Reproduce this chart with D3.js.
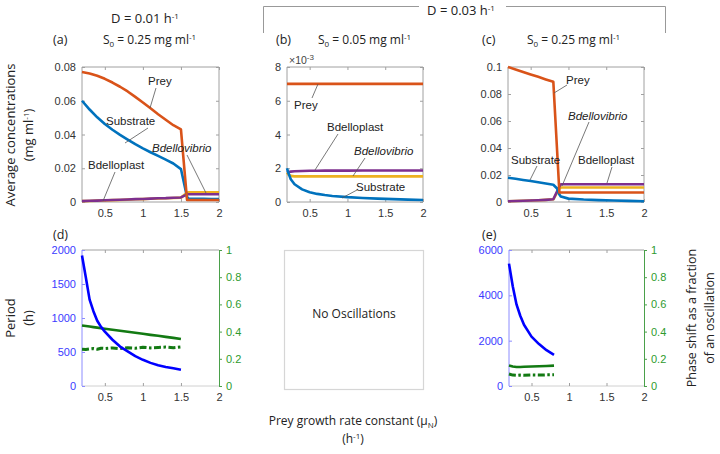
<!DOCTYPE html>
<html><head><meta charset="utf-8">
<script src="https://cdn.jsdelivr.net/npm/d3@7"></script>
<style>body{margin:0;background:#fff}svg{display:block}</style>
</head><body><svg id="c" width="720" height="454"></svg>
<script>
// ---------- DATA ----------
const xTicks = [0.5, 1, 1.5, 2];

// (a) D = 0.01, S0 = 0.25
const aMu = [0.2,0.3,0.4,0.5,0.6,0.7,0.8,0.9,1.0,1.1,1.2,1.3,1.4,1.5,1.58,1.6,1.7,1.8,1.9,2.0];
const aPrey = [0.077,0.0762,0.0748,0.073,0.0708,0.0683,0.0655,0.0623,0.059,0.0555,0.052,0.0487,0.0455,0.043,0.0012,0.0012,0.0012,0.0012,0.0012,0.0012];
const aSubstrate = [0.060,0.0548,0.0502,0.0462,0.0428,0.0398,0.0370,0.0343,0.0318,0.0295,0.0273,0.0251,0.0228,0.0195,0.003,0.002,0.0019,0.0019,0.0018,0.0018];
const aBdellovibrio = [0.0005,0.0006,0.0008,0.0009,0.0011,0.0012,0.0014,0.0016,0.0017,0.0019,0.0021,0.0022,0.0024,0.0026,0.0055,0.0057,0.0057,0.0057,0.0057,0.0057];
const aBdelloplast = [0.0005,0.0007,0.0008,0.001,0.0012,0.0013,0.0015,0.0017,0.0018,0.002,0.0022,0.0023,0.0025,0.0027,0.0045,0.0046,0.0046,0.0046,0.0046,0.0046];
const aTicksY = [0, 0.02, 0.04, 0.06, 0.08];

// (b) D = 0.03, S0 = 0.05  (values x 10^-3)
const bMu = [0.2,0.22,0.25,0.3,0.4,0.5,0.6,0.7,0.8,1.0,1.2,1.4,1.6,1.8,2.0];
const bPrey = [7,7,7,7,7,7,7,7,7,7,7,7,7,7,7];
const bSubstrate = [2.0,1.7,1.35,1.05,0.75,0.58,0.48,0.41,0.36,0.29,0.24,0.2,0.17,0.14,0.12];
const bBdelloplast = [1.75,1.78,1.8,1.82,1.84,1.85,1.85,1.86,1.86,1.86,1.87,1.87,1.87,1.87,1.87];
const bBdellovibrio = [1.75,1.62,1.55,1.52,1.52,1.52,1.52,1.52,1.52,1.52,1.52,1.52,1.52,1.52,1.52];
const bTicksY = [0, 2, 4, 6, 8];

// (c) D = 0.03, S0 = 0.25
const cMu = [0.2,0.3,0.4,0.5,0.6,0.7,0.8,0.85,0.88,0.9,1.0,1.2,1.4,1.6,1.8,2.0];
const cPrey = [0.1,0.0982,0.0963,0.0945,0.0927,0.0908,0.089,0.038,0.007,0.007,0.007,0.007,0.007,0.007,0.007,0.007];
const cSubstrate = [0.018,0.0172,0.0163,0.0155,0.0146,0.0137,0.0128,0.010,0.0055,0.004,0.0025,0.0018,0.0014,0.0011,0.0008,0.0006];
const cBdellovibrio = [0.0005,0.0007,0.0009,0.0011,0.0013,0.0016,0.002,0.007,0.0100,0.0107,0.0107,0.0107,0.0107,0.0107,0.0107,0.0107];
const cBdelloplast = [0.0005,0.0007,0.0009,0.0011,0.0013,0.0016,0.002,0.008,0.0115,0.0132,0.0132,0.0132,0.0132,0.0132,0.0132,0.0132];
const cTicksY = [0, 0.02, 0.04, 0.06, 0.08, 0.1];

// (d) period and phase shift, D = 0.01
const dMu = [0.2,0.25,0.3,0.35,0.4,0.45,0.5,0.6,0.7,0.8,0.9,1.0,1.1,1.2,1.3,1.4,1.5];
const dPeriod = [1920,1600,1270,1100,960,870,800,680,580,510,440,385,340,305,280,260,240];
const dPhase = [0.445,0.441,0.437,0.433,0.429,0.425,0.421,0.414,0.406,0.399,0.391,0.384,0.376,0.369,0.361,0.354,0.345];
const dPhase2 = [0.27,0.268,0.272,0.275,0.27,0.278,0.276,0.28,0.275,0.282,0.278,0.285,0.28,0.283,0.286,0.281,0.287];
const dTicksL = [0, 500, 1000, 1500, 2000];

// (e) period and phase shift, D = 0.03, S0 = 0.25
const eMu = [0.2,0.25,0.3,0.35,0.4,0.5,0.6,0.7,0.8];
const ePeriod = [5400,4400,3600,3100,2700,2180,1850,1580,1370];
const ePhase = [0.15,0.143,0.14,0.14,0.141,0.143,0.145,0.147,0.15];
const ePhase2 = [0.088,0.08,0.078,0.08,0.079,0.081,0.08,0.082,0.082];
const eTicksL = [0, 2000, 4000, 6000];
const phaseTicks = [0, 0.2, 0.4, 0.6, 0.8, 1];

// ---------- DRAWING ----------
const svg = d3.select("#c");
const C = {prey:"#D95319", sub:"#0072BD", vib:"#EDB120", plast:"#7E2F8E", per:"#0000FF", ph:"#137a13"};
const TF = "'Liberation Sans', Arial, sans-serif";
const LF = "'Open Sans', 'Noto Sans', sans-serif";
const fmt = d => String(d);

function frame(x0, x1, y0, y1, yDomain, yTicks, opts={}) {
  const x = d3.scaleLinear().domain([0.2, 2]).range([x0, x1]);
  const y = d3.scaleLinear().domain(yDomain).range([y1, y0]);
  const g = svg.append("g");
  const axCol = "#a0a0a0";
  g.append("line").attr("x1",x0).attr("x2",x1).attr("y1",y0).attr("y2",y0).attr("stroke",axCol);
  g.append("line").attr("x1",x0).attr("x2",x1).attr("y1",y1).attr("y2",y1).attr("stroke",opts.bottomCol||axCol);
  const xb = g.append("g").attr("transform",`translate(0,${y1})`)
    .call(d3.axisBottom(x).tickValues(xTicks).tickSize(-3).tickPadding(7).tickFormat(fmt));
  xb.select(".domain").remove();
  xb.selectAll("line").attr("stroke",axCol);
  xb.selectAll("text").attr("fill","#333").style("font-family",TF).style("font-size","11px");
  const xt = g.append("g").attr("transform",`translate(0,${y0})`)
    .call(d3.axisTop(x).tickValues(xTicks).tickSize(-3).tickFormat(""));
  xt.select(".domain").remove();
  xt.selectAll("line").attr("stroke",axCol);
  const lc = opts.leftCol || axCol, ltc = opts.leftTextCol || "#333";
  const yl = g.append("g").attr("transform",`translate(${x0},0)`)
    .call(d3.axisLeft(y).tickValues(yTicks).tickSize(-3).tickPadding(6).tickFormat(fmt));
  yl.select(".domain").attr("stroke",lc).attr("d",`M0,${y1}V${y0}`);
  yl.selectAll("line").attr("stroke",lc);
  yl.selectAll("text").attr("fill",ltc).style("font-family",TF).style("font-size","11px");
  if (!opts.noRight) {
    const yr = g.append("g").attr("transform",`translate(${x1},0)`)
      .call(d3.axisRight(y).tickValues(yTicks).tickSize(-3).tickFormat(""));
    yr.select(".domain").attr("stroke",axCol).attr("d",`M0,${y1}V${y0}`);
    yr.selectAll("line").attr("stroke",axCol);
  }
  return {x, y, g};
}

function line(p, mu, vals, color, yScale, w=2.6, dash=null) {
  const ys = yScale || p.y;
  const path = p.g.append("path")
    .datum(mu.map((m,i)=>[m, vals[i]]))
    .attr("fill","none").attr("stroke",color).attr("stroke-width",w)
    .attr("stroke-linejoin","round")
    .attr("d", d3.line().x(d=>p.x(d[0])).y(d=>ys(d[1])));
  if (dash) path.attr("stroke-dasharray",dash);
}

function label(px, py, text, italic=false) {
  svg.append("text").attr("x",px).attr("y",py).text(text)
    .style("font-family",TF).style("font-size","11.5px").attr("fill","#222")
    .style("font-style", italic ? "italic" : "normal");
}
function leader(x1,y1,x2,y2){
  svg.append("line").attr("x1",x1).attr("y1",y1).attr("x2",x2).attr("y2",y2)
    .attr("stroke","#555").attr("stroke-width",0.8);
}

// (a)
const pa = frame(82, 219, 67, 202, [0, 0.08], aTicksY);
line(pa, aMu, aBdellovibrio, C.vib, null);
line(pa, aMu, aBdelloplast, C.plast, null);
line(pa, aMu, aSubstrate, C.sub, null);
line(pa, aMu, aPrey, C.prey, null);
label(148, 85, "Prey"); leader(156, 88, 150, 108);
label(106, 125, "Substrate"); leader(148, 128, 125, 143);
label(152, 152, "Bdellovibrio", true); leader(187, 155, 206, 193);
label(88, 169, "Bdelloplast"); leader(115, 172, 103, 201);

// (b)
const pb = frame(287, 423, 67, 202, [0, 8], bTicksY);
line(pb, bMu, bBdellovibrio, C.vib, null);
line(pb, bMu, bBdelloplast, C.plast, null);
line(pb, bMu, bSubstrate, C.sub, null);
line(pb, bMu, bPrey, C.prey, null);
svg.append("text").attr("x",289).attr("y",64).style("font-family",TF).style("font-size","10.5px").attr("fill","#444")
  .text("\u00d710").append("tspan").attr("dy",-4).style("font-size","8px").text("-3");
label(294, 109, "Prey"); leader(318, 84, 312, 98);
label(327, 131, "Bdelloplast"); leader(338, 134, 315, 170);
label(354, 155, "Bdellovibrio", true); leader(365, 158, 353, 176);
label(356, 191, "Substrate"); leader(357, 190, 342, 198);

// (c)
const pc = frame(508, 644, 67, 202, [0, 0.1], cTicksY);
line(pc, cMu, cBdellovibrio, C.vib, null);
line(pc, cMu, cBdelloplast, C.plast, null);
line(pc, cMu, cSubstrate, C.sub, null);
line(pc, cMu, cPrey, C.prey, null);
label(566, 84, "Prey"); leader(567, 85, 554, 93);
label(568, 120, "Bdellovibrio", true); leader(589, 122, 562, 186);
label(511, 164, "Substrate"); leader(537, 166, 530, 180);
label(578, 164, "Bdelloplast"); leader(612, 167, 607, 183);

// (d)
const pd = frame(82, 219, 250, 386, [0, 2000], dTicksL,
  {leftCol:"#8c8cff", leftTextCol:"#3b3bff", noRight:true, bottomCol:"#d0d0d0"});
const yd2 = d3.scaleLinear().domain([0,1]).range([386,250]);
{
  const yr = pd.g.append("g").attr("transform","translate(219,0)")
    .call(d3.axisRight(yd2).tickValues(phaseTicks).tickSize(3).tickPadding(4).tickFormat(fmt));
  yr.select(".domain").attr("stroke","#4aa04a");
  yr.selectAll("line").attr("stroke","#4aa04a");
  yr.selectAll("text").attr("fill","#2e9a2e").style("font-family",TF).style("font-size","11px");
}
line(pd, dMu, dPhase2, C.ph, yd2, 3, "7,2.5,2.5,2.5");
line(pd, dMu, dPhase, C.ph, yd2, 2.6);
line(pd, dMu, dPeriod, C.per, null, 2.6);

// (e)
const pe = frame(509, 644, 250, 386, [0, 6000], eTicksL,
  {leftCol:"#8c8cff", leftTextCol:"#3b3bff", noRight:true, bottomCol:"#d0d0d0"});
const ye2 = d3.scaleLinear().domain([0,1]).range([386,250]);
{
  const yr = pe.g.append("g").attr("transform","translate(644,0)")
    .call(d3.axisRight(ye2).tickValues(phaseTicks).tickSize(3).tickPadding(4).tickFormat(fmt));
  yr.select(".domain").attr("stroke","#4aa04a");
  yr.selectAll("line").attr("stroke","#4aa04a");
  yr.selectAll("text").attr("fill","#2e9a2e").style("font-family",TF).style("font-size","11px");
}
line(pe, eMu, ePhase2, C.ph, ye2, 3, "7,2.5,2.5,2.5");
line(pe, eMu, ePhase, C.ph, ye2, 2.6);
line(pe, eMu, ePeriod, C.per, null, 2.6);

// No oscillations box
svg.append("rect").attr("x",284.5).attr("y",250.5).attr("width",139).attr("height",139)
  .attr("fill","none").attr("stroke","#d6d6d6").attr("stroke-width",1.2);
svg.append("text").attr("x",354).attr("y",318).attr("text-anchor","middle")
  .style("font-family",LF).style("font-size","12px").attr("fill","#222").text("No Oscillations");

// ---------- HEADINGS ----------
function headText(x, y, parts, anchor="start", size=12) {
  const t = svg.append("text").attr("x",x).attr("y",y).attr("text-anchor",anchor)
    .style("font-family",LF).style("font-size",size+"px").attr("fill","#222");
  parts.forEach(p => {
    const s = t.append("tspan").text(p[0]);
    if (p[1]==="sup") s.attr("dy",-4).style("font-size","8px");
    if (p[1]==="sub") s.attr("dy",3).style("font-size","8px");
    if (p[1]==="reset") s.attr("dy",p[2]);
  });
  return t;
}
headText(145, 23, [["D = 0.01 h"],["-1","sup"]], "middle", 13);
headText(461, 15, [["D = 0.03 h"],["-1","sup"]], "middle", 13);
svg.append("path").attr("d","M263.5,33V6.5H419").attr("fill","none").attr("stroke","#999");
svg.append("path").attr("d","M506,6.5H665.5V33").attr("fill","none").attr("stroke","#999");

headText(53, 44, [["(a)"]], "start", 12.5);
headText(103, 44, [["S"],["0","sub"],[" = 0.25 mg ml","reset",-3],["-1","sup"]]);
headText(276, 44, [["(b)"]], "start", 12.5);
headText(318, 44, [["S"],["0","sub"],[" = 0.05 mg ml","reset",-3],["-1","sup"]]);
headText(482, 44, [["(c)"]], "start", 12.5);
headText(527, 44, [["S"],["0","sub"],[" = 0.25 mg ml","reset",-3],["-1","sup"]]);
headText(53, 239, [["(d)"]], "start", 12.5);
headText(482, 239, [["(e)"]], "start", 12.5);

// axis titles
function vText(x, y, parts, size=12.5) {
  const t = headText(0, 0, parts, "middle", size);
  t.attr("transform",`translate(${x},${y}) rotate(-90)`);
}
vText(15, 135, [["Average concentrations"]], 13);
vText(33, 135, [["(mg ml"],["-1","sup"],[")","reset",4]], 13);
vText(15, 318, [["Period"]], 13);
vText(33, 318, [["(h)"]], 13);
vText(696, 318, [["Phase shift as a fraction"]], 12.5);
vText(714, 318, [["of an oscillation"]], 12.5);

headText(353, 425, [["Prey growth rate constant (\u03bc"],["N","sub"],[")","reset",-3]], "middle");
headText(353, 443, [["(h"],["-1","sup"],[")","reset",4]], "middle");
</script></body></html>
